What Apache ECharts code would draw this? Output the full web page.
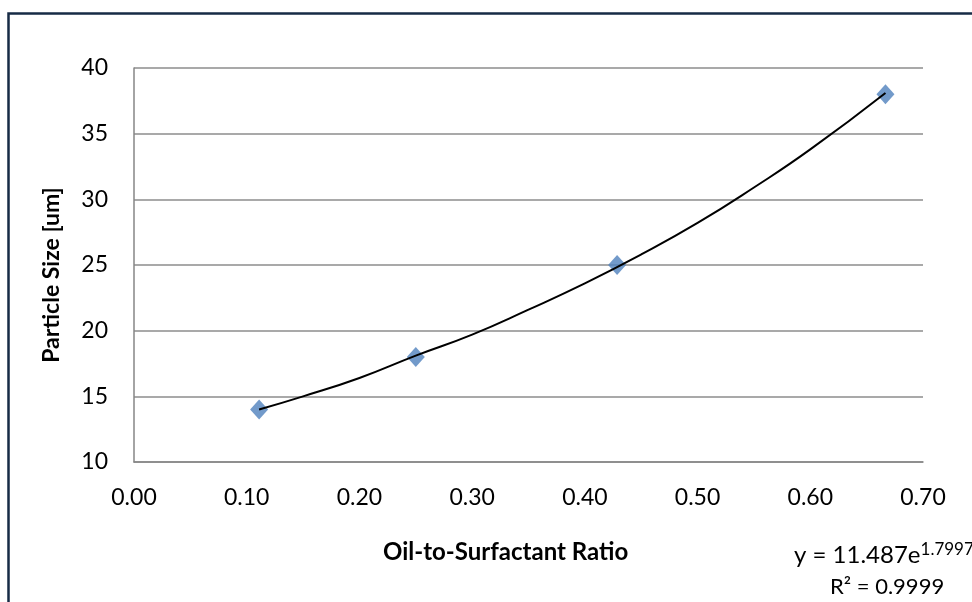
<!DOCTYPE html>
<html>
<head>
<meta charset="utf-8">
<script src="https://cdn.jsdelivr.net/npm/echarts@6/dist/echarts.min.js"></script>
<style>
  html, body { margin: 0; padding: 0; background: #fff; }
  #chart { width: 972px; height: 602px; }
</style>
</head>
<body>
<div id="chart"></div>
<script>
// measured points
const ratio = [0.111, 0.25, 0.4286, 0.6667];
const particleSize = [14, 18, 25, 38];

// exponential trendline
const trendX = [0.111, 0.15, 0.2, 0.25, 0.3, 0.35, 0.4, 0.45, 0.5, 0.55, 0.6, 0.6667];
const trendY = [14.0, 15.0, 16.4, 18.1, 19.7, 21.6, 23.6, 25.8, 28.2, 30.9, 33.8, 38.1];

const xTicks = [0, 0.7, 0.1];
const yTicks = [10, 40, 5];

const font = 'Lato';
const chart = echarts.init(document.getElementById('chart'));

const option = {
  animation: false,
  textStyle: { fontFamily: font },
  grid: { left: 134, top: 68, right: 49, bottom: 140 },
  xAxis: {
    type: 'value',
    min: xTicks[0],
    max: xTicks[1],
    interval: xTicks[2],
    axisLine: { show: true, lineStyle: { color: '#868686', width: 1.5 } },
    axisTick: { show: false },
    splitLine: { show: false },
    axisLabel: {
      color: '#000',
      fontSize: 23,
      fontFamily: font,
      margin: 24,
      formatter: v => v.toFixed(2)
    }
  },
  yAxis: {
    type: 'value',
    min: yTicks[0],
    max: yTicks[1],
    interval: yTicks[2],
    axisLine: { show: true, lineStyle: { color: '#868686', width: 1.5 } },
    axisTick: { show: false },
    splitLine: { show: true, lineStyle: { color: '#8c8c8c', width: 1.5 } },
    axisLabel: { color: '#000', fontSize: 23, fontFamily: font, margin: 26 }
  },
  series: [
    {
      type: 'line',
      data: trendX.map((x, i) => [x, trendY[i]]),
      smooth: true,
      showSymbol: false,
      lineStyle: { color: '#000', width: 2 },
      z: 3
    },
    {
      type: 'scatter',
      data: ratio.map((x, i) => [x, particleSize[i]]),
      symbol: 'diamond',
      symbolSize: [18, 20],
      itemStyle: { color: '#4f81bd' },
      z: 2
    }
  ],
  graphic: [
    {
      type: 'rect',
      shape: { x: 8.5, y: 13.5, width: 1000, height: 700 },
      style: { fill: 'none', stroke: '#172b45', lineWidth: 2.5 }
    },
    {
      type: 'text',
      x: 52, y: 275,
      rotation: Math.PI / 2,
      style: {
        text: 'Particle Size [um]',
        font: 'bold 23px ' + font,
        fill: '#000',
        align: 'center',
        verticalAlign: 'middle'
      }
    },
    {
      type: 'text',
      x: 383, y: 552,
      style: {
        text: 'Oil-to-Surfactant Ratio',
        font: 'bold 24px ' + font,
        fill: '#000',
        align: 'left',
        verticalAlign: 'middle'
      }
    },
    {
      type: 'text',
      x: 794, y: 555,
      style: {
        text: '{b|y = 11.487e}{s|1.7997x}',
        align: 'left',
        verticalAlign: 'middle',
        rich: {
          b: { fontSize: 24, fontFamily: font, color: '#000' },
          s: { fontSize: 17, fontFamily: font, color: '#000', verticalAlign: 'top', padding: [0, 0, 10, 0] }
        }
      }
    },
    {
      type: 'text',
      x: 830, y: 587,
      style: {
        text: 'R² = 0.9999',
        font: '22px ' + font,
        fill: '#000',
        align: 'left',
        verticalAlign: 'middle'
      }
    }
  ]
};

chart.setOption(option);
</script>
</body>
</html>
